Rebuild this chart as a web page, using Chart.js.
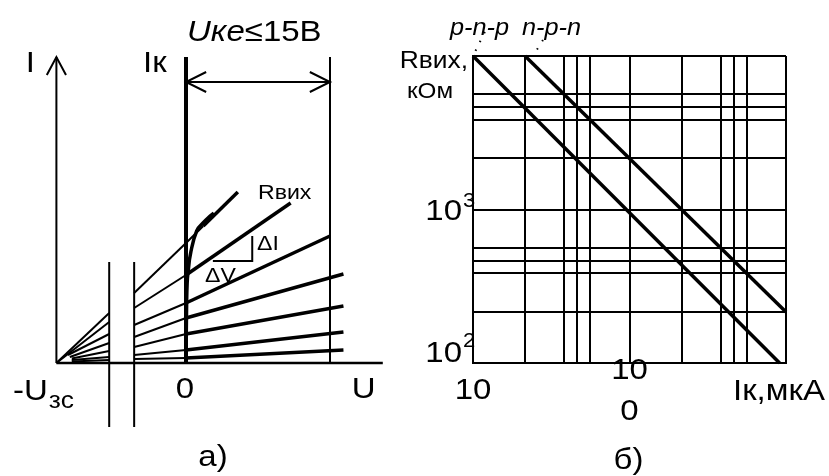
<!DOCTYPE html>
<html>
<head>
<meta charset="utf-8">
<script src="https://cdn.jsdelivr.net/npm/chart.js@4.4.0/dist/chart.umd.min.js"></script>
<style>
    html, body { margin: 0; padding: 0; background: #fff; }
    #wrap { position: relative; width: 829px; height: 476px; overflow: hidden; }
    canvas { position: absolute; top: 0; }
    #left { left: 0; }
    #right { left: 380px; }
</style>
</head>
<body>
<div id="wrap">
    <canvas id="left" width="415" height="476"></canvas>
    <canvas id="right" width="449" height="476"></canvas>
</div>
<script>
"use strict";

// ---- panel a): output characteristics (U in V, I in arbitrary units) ----
const pivotU = -13.5;            // -Uзс, where all lines meet
const breakU = [-8.0, -5.4];     // the two axis-break strokes
const breakI = [10.1, -6.4];
const uMax = 15;                 // Uке <= 15 В
const uAxisEnd = 20.5;
const iTop = 30.6;
const dimI = 28.1;               // height of the 15 В dimension arrow

const fanStartU = [-13.5, -13.5, -12.3, -12.1, -11.9, -11.9, -11.9];
const fanStartI = [0, 0, 0.8, 0.6, 0.45, 0.3, 0.15];
const fanAtBreak = [5.0, 4.1, 2.9, 2.0, 1.2, 0.6, 0.3];
const fanAfterBreak = [7.0, 5.5, 3.8, 2.6, 1.6, 0.8, 0.4];
const fanAtZero = [12.0, 8.8, 6.0, 4.5, 2.9, 1.3, 0.5];
const fanEndU = [5.4, 10.9, 15, 16.4, 16.4, 16.4, 16.4];
const fanEndI = [17.1, 16.0, 12.7, 8.9, 5.7, 3.1, 1.3];
const tangentJoin = [1.8, 13.7];

const kneeU = [0, 0.03, 0.07, 0.24, 0.59, 1.11, 1.77, 2.4, 2.9];
const kneeI = [0.3, 3.0, 6.3, 9.3, 11.5, 13.2, 14.0, 14.6, 15.0];

const deltaU = [2.8, 6.9];
const deltaI = [10.2, 12.7];

// ---- panel б): Rвих vs Iк, log-log ----
const currentGrid = [10, 21.5, 38.3, 46.4, 56.2, 100, 215, 383, 464, 562, 1000];
const resistGrid = [100, 215, 383, 464, 562, 1000, 2150, 3830, 4640, 5620, 10000];
const pnpI = [10, 910];
const pnpR = [10000, 100];
const npnI = [21.5, 1000];
const npnR = [10000, 215];
const pnpLeaderI = [11.9, 10];
const pnpLeaderR = [14350, 10000];
const npnLeaderI = [28.0, 24.2];
const npnLeaderR = [12720, 10000];

const FONT = '"Liberation Sans", Arial, sans-serif';
const STRETCH = 1.1;

function pt(x, y) {
    return {x: x, y: y};
}

function seg(points, width, extra) {
    return Object.assign({
        data: points,
        showLine: true,
        borderColor: "#000",
        borderWidth: width,
        pointRadius: 0,
        fill: false,
        clip: false
    }, extra || {});
}

function text(ctx, str, x, y, size, opts) {
    opts = opts || {};
    ctx.save();
    ctx.font = (opts.italic ? "italic " : "") + size + "px " + FONT;
    ctx.fillStyle = "#000";
    ctx.textBaseline = "alphabetic";
    let w = ctx.measureText(str).width * STRETCH;
    let left = x;
    if (opts.align === "center") left = x - w / 2;
    if (opts.align === "right") left = x - w;
    ctx.translate(left, y);
    ctx.scale(STRETCH, 1);
    ctx.fillText(str, 0, 0);
    ctx.restore();
    return left + w;
}

// ---------- left chart ----------
const thin = 2, thick = 3.5;
let leftSets = [];

leftSets.push(seg([pt(pivotU, 0), pt(pivotU, iTop)], 2));
leftSets.push(seg([pt(pivotU - 1, iTop - 1.8), pt(pivotU, iTop), pt(pivotU + 1, iTop - 1.8)], 2));
leftSets.push(seg([pt(pivotU, 0), pt(uAxisEnd, 0)], 2.5));
leftSets.push(seg([pt(breakU[0], breakI[0]), pt(breakU[0], breakI[1])], 2));
leftSets.push(seg([pt(breakU[1], breakI[0]), pt(breakU[1], breakI[1])], 2));
leftSets.push(seg([pt(0, 0), pt(0, iTop)], 4));
leftSets.push(seg([pt(uMax, 0), pt(uMax, iTop)], 2));
leftSets.push(seg([pt(0, dimI), pt(uMax, dimI)], 2));
leftSets.push(seg([pt(2.1, dimI + 1), pt(0, dimI), pt(2.1, dimI - 1)], 2));
leftSets.push(seg([pt(uMax - 2.1, dimI + 1), pt(uMax, dimI), pt(uMax - 2.1, dimI - 1)], 2));

for (let i = 0; i < fanAtZero.length; i++) {
    leftSets.push(seg([pt(fanStartU[i], fanStartI[i]), pt(breakU[0], fanAtBreak[i])], thin));
    leftSets.push(seg([pt(breakU[1], fanAfterBreak[i]), pt(0, fanAtZero[i])], thin));
    if (i === 0) {
        leftSets.push(seg([pt(0, fanAtZero[i]), pt(tangentJoin[0], tangentJoin[1])], thin));
        leftSets.push(seg([pt(tangentJoin[0], tangentJoin[1]), pt(fanEndU[i], fanEndI[i])], thick));
    } else {
        leftSets.push(seg([pt(0, fanAtZero[i]), pt(fanEndU[i], fanEndI[i])], thick));
    }
}

leftSets.push(seg(kneeU.map((u, i) => pt(u, kneeI[i])), thick, {cubicInterpolationMode: "monotone"}));
leftSets.push(seg([pt(deltaU[0], deltaI[0]), pt(deltaU[1], deltaI[0]), pt(deltaU[1], deltaI[1])], 2));

const leftLabels = {
    id: "leftLabels",
    afterDraw(chart) {
        const ctx = chart.ctx;
        const x = chart.scales.x, y = chart.scales.y;
        const x0 = x.getPixelForValue(0), y0 = y.getPixelForValue(0);
        text(ctx, "I", x.getPixelForValue(pivotU) - 26, 72, 30, {align: "center"});
        text(ctx, "Iк", x0 - 43, 72, 30);
        let e = text(ctx, "Uке", x0 + 1, 41, 30, {italic: true});
        text(ctx, "≤15В", e, 41, 30);
        text(ctx, "Rвих", 258, 199, 21);
        text(ctx, "ΔI", 257, 250, 21);
        text(ctx, "ΔV", 205, 282, 21);
        e = text(ctx, "-U", 13, y0 + 37, 30);
        text(ctx, "зс", e + 1, y0 + 45, 24);
        text(ctx, "0", x0 - 1, y0 + 35, 30, {align: "center"});
        text(ctx, "U", x.getPixelForValue(18.5), y0 + 35, 30, {align: "center"});
        text(ctx, "а)", x0 + 27, 466, 30, {align: "center"});
    }
};

new Chart(document.getElementById("left"), {
    type: "scatter",
    data: {datasets: leftSets},
    options: {
        responsive: false,
        animation: false,
        events: [],
        layout: {padding: {left: 13.2, right: 17.8, top: 13, bottom: 13}},
        scales: {
            x: {type: "linear", display: false, min: -18, max: 22},
            y: {type: "linear", display: false, min: -10, max: 35}
        },
        plugins: {legend: {display: false}, tooltip: {enabled: false}}
    },
    plugins: [leftLabels]
});

// ---------- right chart ----------
const rightSets = [
    seg(pnpI.map((v, i) => pt(v, pnpR[i])), 3.5),
    seg(npnI.map((v, i) => pt(v, npnR[i])), 3.5),
    seg(pnpLeaderI.map((v, i) => pt(v, pnpLeaderR[i])), 2, {borderDash: [1.5, 8.3]}),
    seg(npnLeaderI.map((v, i) => pt(v, npnLeaderR[i])), 2, {borderDash: [1.5, 8.3]})
];

const rightLabels = {
    id: "rightLabels",
    afterDraw(chart) {
        const ctx = chart.ctx;
        const x = chart.scales.x, y = chart.scales.y;
        const xl = x.getPixelForValue(10);
        text(ctx, "p-n-p", 70, 35, 23, {italic: true});
        text(ctx, "n-p-n", 142, 35, 23, {italic: true});
        text(ctx, "Rвих,", xl - 5, 68, 24, {align: "right"});
        text(ctx, "кОм", xl - 43, 98, 22, {align: "center"});
        let e = text(ctx, "10", xl - 11, y.getPixelForValue(1000) + 10, 30, {align: "right"});
        text(ctx, "3", e + 1, y.getPixelForValue(1000) - 3, 20);
        e = text(ctx, "10", xl - 11, y.getPixelForValue(100) - 1, 30, {align: "right"});
        text(ctx, "2", e + 1, y.getPixelForValue(100) - 16, 20);
        const yb = y.getPixelForValue(100);
        text(ctx, "10", xl, yb + 36, 30, {align: "center"});
        text(ctx, "10", x.getPixelForValue(100), yb + 16, 30, {align: "center"});
        text(ctx, "0", x.getPixelForValue(100), yb + 57, 30, {align: "center"});
        text(ctx, "Iк,мкА", 353, yb + 37, 30);
        text(ctx, "б)", x.getPixelForValue(100) - 1, 469, 30, {align: "center"});
    }
};

function logAxis(min, max, grid) {
    return {
        type: "logarithmic",
        min: min,
        max: max,
        afterBuildTicks: scale => {
            scale.ticks = grid.map(v => ({value: v}));
        },
        ticks: {display: false},
        grid: {color: "#000", lineWidth: 2, drawTicks: false},
        border: {color: "#000", width: 2}
    };
}

new Chart(document.getElementById("right"), {
    type: "scatter",
    data: {datasets: rightSets},
    options: {
        responsive: false,
        animation: false,
        events: [],
        layout: {padding: {left: 93, right: 43, top: 56, bottom: 113}},
        scales: {
            x: logAxis(10, 1000, currentGrid),
            y: logAxis(100, 10000, resistGrid)
        },
        plugins: {legend: {display: false}, tooltip: {enabled: false}}
    },
    plugins: [rightLabels]
});
</script>
</body>
</html>
